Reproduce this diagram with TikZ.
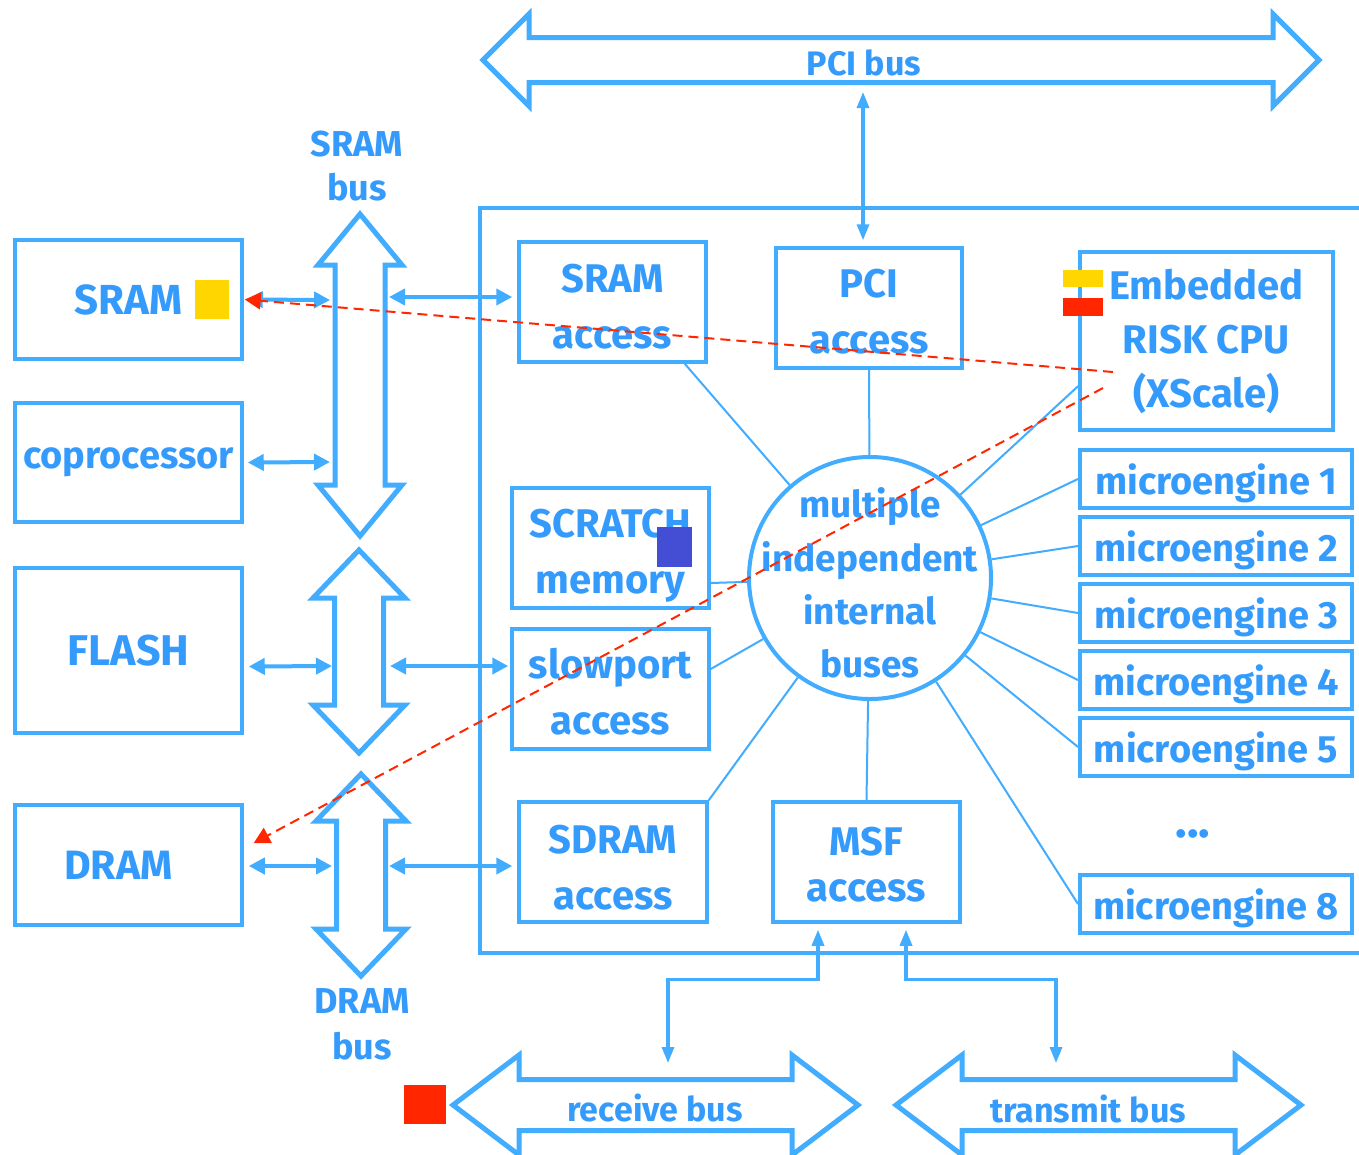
\documentclass[tikz,border=0pt]{standalone}
\usepackage{fontspec}
\setmainfont{Fira Sans}
\usetikzlibrary{arrows.meta,calc}
\definecolor{busblue}{RGB}{66,172,255}
\definecolor{txtblue}{RGB}{52,155,252}
\definecolor{markyellow}{RGB}{255,214,0}
\definecolor{markred}{RGB}{255,38,0}
\definecolor{markviolet}{RGB}{68,78,212}

% vertical bus arrow: centre x, top tip y, bottom tip y, head half-width, shaft half-width, head length
\newcommand\drawvbus[6]{%
  \draw[busline] (#1,#2) -- ({#1+#4},{#2+#6}) -- ({#1+#5},{#2+#6}) -- ({#1+#5},{#3-#6})
    -- ({#1+#4},{#3-#6}) -- (#1,#3) -- ({#1-#4},{#3-#6}) -- ({#1-#5},{#3-#6})
    -- ({#1-#5},{#2+#6}) -- ({#1-#4},{#2+#6}) -- cycle;}
% horizontal bus arrow: centre y, left tip x, right tip x, head half-height, shaft half-height, head length
\newcommand\drawhbus[6]{%
  \draw[busline] (#2,#1) -- ({#2+#6},{#1-#4}) -- ({#2+#6},{#1-#5}) -- ({#3-#6},{#1-#5})
    -- ({#3-#6},{#1-#4}) -- (#3,#1) -- ({#3-#6},{#1+#4}) -- ({#3-#6},{#1+#5})
    -- ({#2+#6},{#1+#5}) -- ({#2+#6},{#1+#4}) -- cycle;}

\begin{document}
\begin{tikzpicture}[x=1pt,y=-1pt,
  txt/.style={text=txtblue, align=center, inner sep=0pt,
    font=\bfseries\fontsize{40}{56}\selectfont},
  box/.style={txt, draw=busblue, line width=3.5pt, rectangle},
  twoline/.style={box, text height=#1},
  mebox/.style={box, line width=4pt, minimum width=272pt, minimum height=58pt,
    text height=40pt, font=\bfseries\fontsize{38}{46}\selectfont},
  busline/.style={draw=busblue, line width=5pt, line join=miter, fill=white},
  link/.style={draw=busblue, line width=4pt,
    {Triangle[length=16pt,width=16pt]}-{Triangle[length=16pt,width=16pt]}},
  slimlink/.style={draw=busblue, line width=3.2pt,
    {Triangle[length=16pt,width=12pt]}-{Triangle[length=16pt,width=12pt]}},
  spoke/.style={draw=busblue, line width=2pt},
  hint/.style={draw=markred, line width=2pt, dash pattern=on 10pt off 6pt,
    -{Triangle[length=16pt,width=17pt]}},
]
\useasboundingbox (0,0) rectangle (1359,1154);
\fill[white] (0,0) rectangle (1359,1154);

% chip outline
\draw[busblue, line width=4pt] (1380,208) -- (480,208) -- (480,953) -- (1380,953);

% external buses
\drawhbus{60}{483}{1319}{46}{22.5}{46}
\node[txt, font=\bfseries\fontsize{34}{40}\selectfont] (pcibus) at (864,63) {PCI bus};
\drawvbus{360}{214}{536}{42}{25}{51}
\drawvbus{359}{550}{753}{46}{24.5}{48}
\drawvbus{361}{774}{976}{45}{24.5}{47}
\node[txt, font=\bfseries\fontsize{36}{44}\selectfont] (sbuslabel) at (357,166) {SRAM\\bus};
\node[txt, font=\bfseries\fontsize{36}{46}\selectfont] (dbuslabel) at (362,1024) {DRAM\\bus};
\drawhbus{1105}{453}{858}{50}{25.5}{66}
\drawhbus{1105}{896}{1301}{50}{25.5}{66}
\node[txt, font=\bfseries\fontsize{34}{40}\selectfont] (rxlabel) at (655,1108) {receive bus};
\node[txt, font=\bfseries\fontsize{34}{40}\selectfont] (txlabel) at (1088,1109) {transmit bus};

% external devices
\node[box, minimum width=227pt, minimum height=119pt,
  font=\bfseries\fontsize{42}{56}\selectfont] (sram) at (128.5,299.5) {SRAM};
\node[box, minimum width=227pt, minimum height=119pt,
  font=\bfseries\fontsize{38}{56}\selectfont] (copro) at (128.5,462.5) {coprocessor};
\node[box, minimum width=227pt, minimum height=165pt,
  font=\bfseries\fontsize{43}{56}\selectfont] (flash) at (128.5,650.5) {FLASH};
\node[box, minimum width=227pt, minimum height=120pt, text width=200pt,
  font=\bfseries\fontsize{41}{56}\selectfont] (dram) at (128.5,865) {DRAM\hspace*{20pt}};

% units inside the chip
\node[twoline=94pt, minimum width=187pt, minimum height=120pt] (sramacc) at (612.5,302) {SRAM\\access};
\node[twoline=92pt, minimum width=186pt, minimum height=120pt] (pciacc) at (869,308) {PCI\\access};
\node[box, minimum width=253pt, minimum height=178pt,
  font=\bfseries\fontsize{40}{54}\selectfont] (cpu) at (1206.5,341) {Embedded\\RISK CPU\\(XScale)};
\node[twoline=100pt, minimum width=197pt, minimum height=120pt] (scratch) at (610.5,548) {SCRATCH\\memory};
\node[twoline=92pt, minimum width=197pt, minimum height=120pt] (slowport) at (610.5,689) {slowport\\access};
\node[twoline=96pt, minimum width=188pt, minimum height=120pt] (sdram) at (613,862) {SDRAM\\access};
\node[twoline=79pt, minimum width=187pt, minimum height=120pt,
  font=\bfseries\fontsize{40}{46}\selectfont] (msf) at (866.5,862) {MSF\\access};
\node[mebox] (me1) at (1216,479) {microengine 1};
\node[mebox] (me2) at (1216,546) {microengine 2};
\node[mebox] (me3) at (1216,613) {microengine 3};
\node[mebox] (me4) at (1216,680) {microengine 4};
\node[mebox] (me5) at (1216,747) {microengine 5};
\node[txt, font=\bfseries\fontsize{48}{56}\selectfont] (dots) at (1193,834) {...};
\node[mebox] (me8) at (1216,904) {microengine 8};

% internal bus hub
\node[circle, draw=busblue, line width=4pt, minimum size=242pt, inner sep=0pt] (hub) at (870,578) {};
\node[txt, font=\bfseries\fontsize{37}{53.3}\selectfont] (hubtext) at (870,583)
  {multiple\\independent\\internal\\buses};

% internal bus spokes
\draw[spoke] ($(sramacc.south east)+(-23,0)$) -- (hub);
\draw[spoke] (pciacc.south) -- (hub);
\draw[spoke] ($(cpu.west)+(0,45)$) -- (hub);
\draw[spoke] ($(scratch.east)+(0,35)$) -- (hub);
\draw[spoke] ($(slowport.east)+(0,-20)$) -- (hub);
\draw[spoke] (sdram.north east) -- (hub);
\draw[spoke] (msf.north) -- (hub);
\foreach \m in {me1,me2,me3,me4,me5,me8} \draw[spoke] (\m.west) -- (hub);

% bus attachment points
\coordinate (sbl1) at (330,300);  \coordinate (sbr1) at (389,297);
\coordinate (sbl2) at (330,462);
\coordinate (fbl) at (332,666);   \coordinate (fbr) at (390,666);
\coordinate (dbl) at (332,866);   \coordinate (dbr) at (389,866);
\coordinate (pcitap) at (863,92);
\coordinate (rxtap) at (668,1063);
\coordinate (txtap) at (1056,1063);

\draw[link] ($(sram.east)+(3,0)$) -- (sbl1);
\draw[link] (sbr1) -- ($(sramacc.west)+(-5,-5)$);
\draw[link] ($(copro.east)+(4,0)$) -- (sbl2);
\draw[link] ($(flash.east)+(5,16)$) -- (fbl);
\draw[link] (fbr) -- ($(slowport.west)+(-2,-23)$);
\draw[link] ($(dram.east)+(5,1)$) -- (dbl);
\draw[link] (dbr) -- ($(sdram.west)+(-5,4)$);
\draw[slimlink] (pcitap) -- ($(pciacc.north)+(-6,-6)$);
\draw[slimlink] ($(msf.south)+(-48.5,6)$) -- ++(0,50) -| (rxtap);
\draw[slimlink] ($(msf.south)+(39.5,6)$) -- ++(0,50) -| (txtap);

% colour markers
\fill[markyellow] (195,280) rectangle (229,319);
\fill[markyellow] (1063,270) rectangle (1103,287);
\fill[markred] (1063,298) rectangle (1103,316);
\fill[markviolet] (657,527) rectangle (692,567);
\fill[markred] (404,1085) rectangle (446,1124);

% dashed hints from the CPU
\coordinate (cpuA) at (1113,372);
\coordinate (cpuB) at (1103,388);
\draw[hint] (cpuA) -- ($(sram.east)+(1,0)$);
\draw[hint] (cpuB) -- ($(dram.east)+(10,-22)$);
\end{tikzpicture}
\end{document}
